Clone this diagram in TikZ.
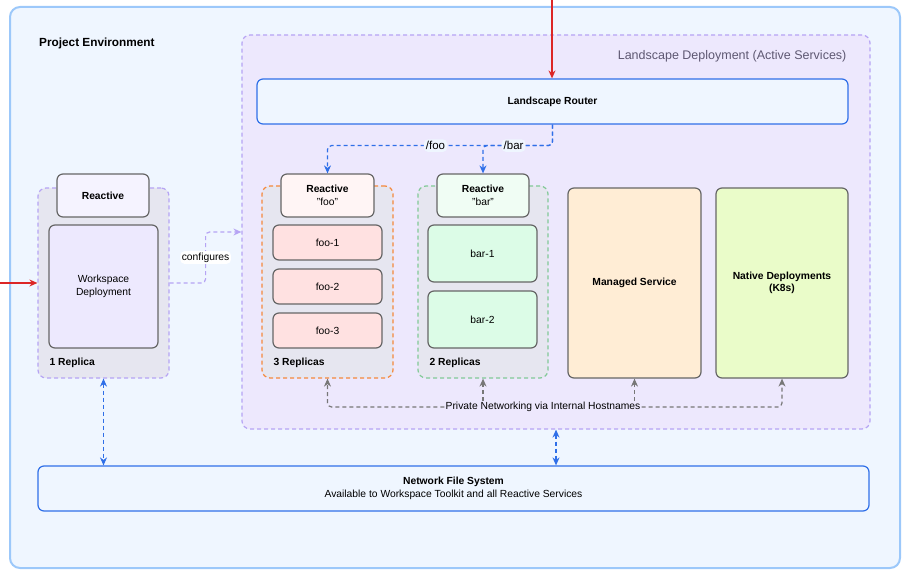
\documentclass[tikz,border=0pt]{standalone}
\usepackage{fontspec}
\setmainfont{Liberation Sans}
\usetikzlibrary{arrows.meta,positioning,calc}
\definecolor{envcol}{HTML}{EFF6FF}
\definecolor{envline}{HTML}{9CC8FA}
\definecolor{landcol}{HTML}{EDE8FD}
\definecolor{landline}{HTML}{B6A4F4}
\definecolor{landtext}{HTML}{5E5872}
\definecolor{grpcol}{HTML}{E6E6F0}
\definecolor{boxline}{HTML}{666666}
\definecolor{foocol}{HTML}{F5893C}
\definecolor{fooreact}{HTML}{FFF5F5}
\definecolor{fooitem}{HTML}{FFE1E1}
\definecolor{barcol}{HTML}{82C997}
\definecolor{barreact}{HTML}{F0FDF4}
\definecolor{baritem}{HTML}{DCFCE7}
\definecolor{mgdcol}{HTML}{FFEDD5}
\definecolor{k8scol}{HTML}{EAFCC9}
\definecolor{wsreact}{HTML}{F5F3FF}
\definecolor{wsdepcol}{HTML}{EDE9FE}
\definecolor{routecol}{HTML}{2F6FE8}
\definecolor{redcol}{HTML}{DC2626}
\definecolor{netcol}{HTML}{777777}

\begin{document}
\begin{tikzpicture}[
    x=1pt, y=-1pt,
    >={Stealth[length=8pt,width=7pt]},
    container/.style={rectangle, rounded corners=8pt, line width=1.2pt, dash pattern=on 4pt off 3pt},
    box/.style={rectangle, rounded corners=6pt, draw=boxline, line width=1.2pt, align=center, inner sep=0pt, font=\fontsize{10.3}{12.5}\selectfont},
    bluebox/.style={rectangle, rounded corners=6pt, draw=routecol, fill=envcol, line width=1.2pt, align=center, inner sep=0pt, font=\fontsize{10.3}{13}\selectfont},
    grouplabel/.style={anchor=west, inner sep=0pt, font=\fontsize{10.3}{12}\selectfont\bfseries},
    redarrow/.style={->, draw=redcol, line width=1.2pt},
    route/.style={->, draw=routecol, line width=1.2pt, dash pattern=on 4pt off 3pt, rounded corners=4pt},
    routelabel/.style={fill=envcol, inner sep=2pt, font=\fontsize{11.5}{13}\selectfont},
    netarrow/.style={->, draw=netcol, line width=1.2pt, dash pattern=on 4pt off 3pt, rounded corners=4pt},
    cfgarrow/.style={->, draw=landline, line width=1.2pt, dash pattern=on 4pt off 3pt, rounded corners=4pt},
]
\useasboundingbox (0,0) rectangle (907,580);

\node[rectangle, rounded corners=10pt, draw=envline, fill=envcol, line width=2pt, minimum width=890pt, minimum height=561pt] (env) at (455,287.5) {};
\node[anchor=west, inner sep=0pt, font=\fontsize{11.8}{14}\selectfont\bfseries] (envtitle) at ($(env.north west)+(30,37)$) {Project Environment};

\node[container, draw=landline, fill=landcol, minimum width=628pt, minimum height=394pt] (landscape) at (556,232) {};
\node[anchor=east, inner sep=0pt, text=landtext, font=\fontsize{12.5}{14}\selectfont] (landtitle) at ($(landscape.north east)+(-24,22)$) {Landscape Deployment (Active Services)};

\node[bluebox, minimum width=591pt, minimum height=45pt, font=\fontsize{10.3}{13}\selectfont\bfseries] (router) at (552.5,101.5) {Landscape Router};

\node[container, draw=foocol, fill=grpcol, minimum width=131pt, minimum height=192pt] (foogrp) at (327.5,282) {};
\node[box, fill=fooreact, minimum width=93pt, minimum height=43pt] (fooR) at (327.5,195.5) {\textbf{Reactive}\\"foo"};
\node[box, fill=fooitem, minimum width=109pt, minimum height=35pt] (foo1) at (327.5,242.5) {foo-1};
\node[box, fill=fooitem, minimum width=109pt, minimum height=35pt] (foo2) at (327.5,286.5) {foo-2};
\node[box, fill=fooitem, minimum width=109pt, minimum height=35pt] (foo3) at (327.5,330.5) {foo-3};
\node[grouplabel] (foorep) at ($(foogrp.south west)+(12,-16)$) {3 Replicas};

\node[container, draw=barcol, fill=grpcol, minimum width=130pt, minimum height=192pt] (bargrp) at (483,282) {};
\node[box, fill=barreact, minimum width=92pt, minimum height=43pt] (barR) at (483,195.5) {\textbf{Reactive}\\"bar"};
\node[box, fill=baritem, minimum width=109pt, minimum height=57pt] (bar1) at (482.5,253.5) {bar-1};
\node[box, fill=baritem, minimum width=109pt, minimum height=57pt] (bar2) at (482.5,319.5) {bar-2};
\node[grouplabel] (barrep) at ($(bargrp.south west)+(12,-16)$) {2 Replicas};

\node[box, fill=mgdcol, minimum width=133pt, minimum height=190pt, font=\fontsize{10.3}{12.5}\selectfont\bfseries] (managed) at (634.5,283) {Managed Service};
\node[box, fill=k8scol, minimum width=132pt, minimum height=190pt, font=\fontsize{10.3}{12.5}\selectfont\bfseries] (native) at (782,283) {Native Deployments\\(K8s)};

\node[container, draw=landline, fill=grpcol, minimum width=131pt, minimum height=190pt] (wsgrp) at (103.5,283) {};
\node[box, fill=wsreact, minimum width=92pt, minimum height=43pt, font=\fontsize{10.3}{12.5}\selectfont\bfseries] (wsR) at (103,195.5) {Reactive};
\node[box, fill=wsdepcol, minimum width=109pt, minimum height=123pt] (wsdep) at (103.5,286.5) {Workspace\\Deployment};
\node[grouplabel] (wsrep) at ($(wsgrp.south west)+(12,-16)$) {1 Replica};

\node[bluebox, minimum width=831pt, minimum height=45pt] (nfs) at (453.5,488.5) {\textbf{Network File System}\\Available to Workspace Toolkit and all Reactive Services};

\coordinate (ext) at (552,0);
\coordinate (user) at (0,283);
\draw[redarrow] (ext) -- (ext |- router.north);
\draw[redarrow] (user) -- (wsgrp.west);

\draw[route] (router.south) -- ++(0,21) -| node[pos=0.26, routelabel] {/foo} (fooR.north);
\draw[route] (router.south) -- ++(0,21) -| node[pos=0.28, routelabel] {/bar} (barR.north);

\draw[cfgarrow] (wsgrp.east) -- ++(36,0) |- node[pos=0.25, fill=white, inner sep=1.5pt, font=\fontsize{10.3}{12}\selectfont] {configures} (landscape.west);

\node[fill=landcol, inner sep=1pt, font=\fontsize{10.3}{12}\selectfont] (pn) at (543,407) {Private Networking via Internal Hostnames};
\draw[netarrow] (pn.west) -| (foogrp.south);
\draw[netarrow] (pn.east) -| (native.south);
\draw[netarrow] (pn.north -| bargrp.south) -- (bargrp.south);
\draw[netarrow] (pn.north -| managed.south) -- (managed.south);

\draw[route, <->] (wsgrp.south) -- (wsgrp.south |- nfs.north);
\draw[route, <->] (landscape.south) -- (landscape.south |- nfs.north);
\end{tikzpicture}
\end{document}
